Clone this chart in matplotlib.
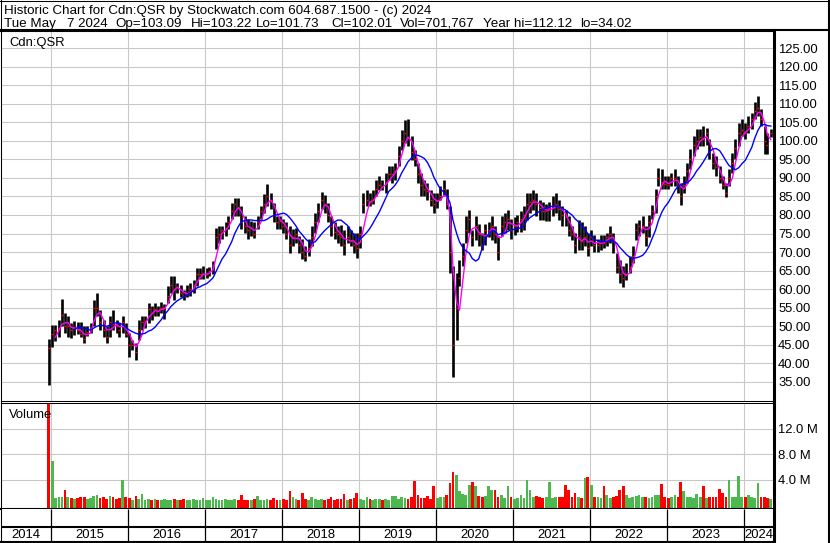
import matplotlib
matplotlib.use('Agg')
import matplotlib.pyplot as plt
from matplotlib.lines import Line2D
import pandas as pd
import numpy as np

plt.rcParams['font.family'] = ['Liberation Sans', 'DejaVu Sans']

# ---------------- data (semi-monthly periods) ----------------
periods = pd.date_range('2014-12-15', '2024-05-01', freq='SMS')

high = [46.5,
    50.4, 50.4, 51.7, 57.3, 53.5, 52.6, 50.8, 51.3, 51.0, 51.0, 50.0, 50.0, 50.8, 57.1, 58.9, 54.4, 51.7, 50.0, 52.6, 54.4, 51.7, 50.8, 52.6, 50.8,
    48.1, 46.3, 45.4, 51.7, 52.6, 52.6, 56.2, 55.3, 56.2, 55.5, 56.5, 56.0, 60.7, 63.4, 63.4, 61.6, 61.0, 59.8, 61.0, 61.6, 62.5, 65.7, 65.8, 66.2,
    65.8, 66.0, 67.5, 76.6, 77.0, 77.0, 78.0, 79.7, 83.3, 84.7, 84.5, 82.4, 79.7, 78.8, 78.3, 78.0, 79.7, 82.4, 85.6, 88.3, 86.0, 83.3, 79.7, 79.7,
    78.8, 78.0, 77.0, 76.1, 76.5, 74.3, 73.4, 71.6, 73.5, 77.0, 80.6, 83.3, 86.2, 85.5, 83.3, 79.7, 78.0, 77.0, 77.4, 76.0, 76.9, 76.0, 75.1, 75.1,
    77.0, 85.9, 86.8, 86.0, 86.8, 89.5, 90.4, 89.5, 91.3, 93.1, 93.1, 94.0, 98.5, 103.0, 105.7, 105.9, 101.2, 97.6, 94.0, 91.3, 89.5, 88.6, 86.8, 85.9,
    86.0, 87.7, 89.5, 87.0, 82.3, 66.1, 64.3, 67.9, 72.4, 79.6, 81.4, 76.0, 79.6, 77.5, 75.1, 77.5, 78.0, 79.6, 77.0, 74.2, 79.6, 80.5, 81.4, 79.0,
    79.5, 80.0, 81.0, 82.3, 86.0, 86.0, 86.8, 86.0, 84.1, 83.5, 83.0, 83.5, 85.0, 86.0, 84.1, 82.5, 81.4, 79.6, 77.0, 75.1, 78.7, 78.0, 77.0, 75.1,
    76.0, 74.5, 73.5, 74.5, 74.5, 75.1, 77.1, 75.1, 69.7, 67.9, 66.1, 67.0, 68.8, 71.5, 77.8, 78.7, 79.6, 77.0, 80.0, 82.8, 86.9, 92.7, 92.3, 90.5,
    90.5, 91.4, 92.3, 90.5, 88.7, 90.5, 94.1, 97.7, 101.3, 103.1, 103.1, 104.0, 103.5, 100.4, 96.8, 95.9, 93.2, 90.5, 88.7, 92.3, 96.8, 100.4, 104.9, 105.8,
    104.9, 106.7, 107.6, 110.6, 112.1, 108.5, 104.0, 102.2, 103.2]

low = [34.0,
    44.5, 45.9, 47.2, 49.9, 48.1, 47.2, 46.8, 47.7, 48.0, 47.2, 45.4, 47.3, 48.1, 49.9, 52.6, 49.0, 47.2, 45.4, 47.2, 49.0, 48.1, 47.2, 48.1, 47.2,
    41.8, 43.6, 40.9, 46.3, 49.0, 49.5, 50.8, 51.7, 52.6, 52.6, 53.5, 52.0, 56.2, 58.9, 57.1, 58.9, 57.8, 57.1, 57.8, 58.0, 58.9, 60.7, 62.6, 62.6,
    63.0, 63.5, 64.0, 70.7, 72.5, 73.4, 74.3, 76.1, 78.8, 79.7, 79.7, 76.1, 75.2, 73.4, 74.3, 73.8, 76.1, 78.8, 80.6, 82.4, 81.5, 78.0, 76.1, 76.1,
    75.2, 73.4, 69.8, 71.6, 72.5, 69.8, 68.0, 67.6, 69.0, 71.6, 75.2, 78.0, 81.5, 80.6, 78.0, 74.3, 73.4, 72.5, 71.5, 69.3, 72.4, 71.5, 69.7, 68.4,
    71.0, 80.5, 82.3, 82.5, 83.0, 85.0, 86.8, 86.8, 85.9, 89.5, 88.6, 89.5, 93.1, 97.6, 99.4, 98.5, 94.9, 93.1, 88.6, 85.0, 85.0, 84.1, 82.3, 80.5,
    82.0, 84.1, 85.0, 81.5, 64.3, 36.4, 46.3, 60.7, 66.1, 72.4, 75.1, 71.5, 73.3, 71.5, 70.6, 72.0, 74.0, 73.3, 72.5, 67.9, 74.2, 75.1, 76.0, 73.5,
    74.5, 75.5, 75.5, 76.0, 78.7, 80.5, 81.4, 79.6, 78.7, 78.7, 78.5, 78.5, 79.6, 80.5, 78.7, 77.0, 77.0, 74.2, 73.3, 69.7, 70.6, 70.6, 71.5, 68.8,
    71.5, 70.0, 70.0, 70.5, 71.0, 71.5, 72.4, 69.7, 64.3, 61.6, 60.5, 62.5, 64.3, 67.0, 73.3, 74.2, 75.1, 71.5, 74.0, 78.8, 80.6, 87.8, 86.9, 86.9,
    86.9, 87.8, 87.8, 86.0, 82.8, 86.0, 88.7, 92.3, 95.9, 97.7, 98.6, 98.6, 99.0, 95.0, 92.3, 90.5, 88.7, 86.9, 84.9, 87.8, 91.4, 95.0, 98.6, 101.3,
    100.4, 102.2, 103.1, 105.8, 106.7, 104.0, 96.4, 96.4, 101.0]

close = [44.0,
    48, 49, 49.5, 53, 50, 50, 49, 49.5, 49, 48, 46.5, 48.5, 49.5, 55, 55, 51, 49, 47, 51, 50.5, 50, 49, 51, 48,
    45, 45, 43, 49, 51, 51.5, 54.5, 53.5, 54.5, 54, 55, 55, 58, 61, 60, 60.5, 59, 58, 59, 60, 61, 64, 64, 64,
    64, 65, 66.5, 74, 75, 76, 76.5, 78, 81, 83, 82, 78, 77, 76, 76.5, 75, 78, 81, 83, 85, 84, 80, 78, 78.5,
    77, 75, 72, 74, 75, 72, 70, 69, 71, 74, 78, 81, 84, 83, 80, 77, 75.5, 75, 74, 72, 74, 73, 72, 71,
    75, 83, 84, 83.5, 84, 87, 88, 87.5, 89, 91, 91, 92, 96, 100, 102, 101, 97, 95, 91, 88, 87, 86.5, 84, 83,
    84, 85, 87, 83, 70, 45, 55, 63, 69, 76, 79, 74, 77, 75, 72, 76, 76, 77, 75, 70, 77, 78, 79, 76,
    77, 78, 79, 80, 83, 83.5, 84, 83, 82, 81, 81, 82, 82, 83, 81.5, 80, 79.5, 76, 75, 72, 74, 73, 74, 71,
    74, 72, 72, 73, 72.5, 74, 75, 73, 66, 64, 63, 64, 66, 69, 76, 77, 77, 74, 78, 81, 85, 90, 89, 88.5,
    88, 90, 90, 88, 85, 88, 92, 95, 99, 100, 101, 100.5, 102, 97, 94, 93, 90, 88, 86, 90, 94, 98, 102, 103,
    102, 104, 106, 108, 109, 106, 100, 99, 102.01]

volume_m = [18.0,
    6.9, 1.2, 1.3, 1.4, 2.4, 1.3, 1.2, 1.1, 1.2, 1.3, 1.4, 1.0, 1.2, 1.5, 1.7, 1.2, 1.3, 1.1, 1.5, 1.3, 1.0, 1.2, 4.0, 1.3,
    1.2, 0.9, 1.5, 1.0, 1.8, 0.9, 1.1, 0.8, 1.0, 0.9, 0.8, 1.1, 0.9, 0.8, 1.0, 0.9, 0.8, 1.0, 0.9, 0.8, 1.0, 0.9, 0.8, 1.2,
    0.9, 0.8, 1.3, 1.1, 0.9, 0.8, 1.0, 0.9, 0.8, 1.0, 0.9, 1.6, 0.8, 0.9, 0.8, 1.0, 1.5, 0.9, 0.8, 1.0, 0.9, 1.2, 0.8, 0.9,
    1.0, 0.9, 2.3, 1.3, 1.0, 0.9, 1.9, 1.0, 0.9, 1.3, 1.0, 0.9, 1.1, 0.9, 1.0, 1.3, 0.9, 1.0, 1.1, 1.8, 0.9, 1.0, 1.2, 1.9,
    1.1, 0.9, 1.3, 1.0, 0.9, 1.0, 1.1, 0.9, 1.0, 0.8, 1.5, 1.5, 1.0, 1.4, 1.2, 1.0, 1.4, 3.9, 1.7, 1.2, 1.2, 1.5, 1.0, 3.0,
    1.2, 1.4, 1.3, 1.6, 3.5, 5.3, 4.8, 2.2, 1.8, 1.6, 3.2, 3.7, 3.0, 1.5, 1.3, 1.5, 3.0, 2.4, 2.4, 1.4, 1.6, 1.2, 3.0, 1.4,
    1.1, 1.2, 1.6, 1.2, 4.0, 2.4, 1.3, 1.5, 1.4, 1.2, 1.3, 3.7, 1.2, 1.3, 1.4, 1.3, 3.2, 2.4, 1.3, 1.9, 1.4, 1.2, 4.3, 4.5,
    3.2, 1.4, 1.3, 1.2, 3.0, 1.6, 1.2, 1.3, 1.5, 2.4, 3.1, 1.7, 1.2, 1.3, 1.5, 1.6, 1.4, 1.3, 1.2, 1.3, 1.7, 1.7, 3.3, 1.3,
    1.2, 1.3, 1.7, 1.3, 3.6, 2.2, 1.4, 1.3, 1.2, 1.8, 1.3, 3.1, 1.2, 1.3, 1.4, 1.3, 2.6, 1.9, 1.4, 4.0, 1.3, 1.4, 4.6, 1.3,
    1.4, 1.6, 1.3, 1.2, 3.5, 1.3, 1.4, 1.2, 1.0]

years = list(range(2014, 2025))
price_ticks = list(range(35, 130, 5))
vol_ticks = [4, 8, 12]

title_line = 'Historic Chart for Cdn:QSR by Stockwatch.com 604.687.1500 - (c) 2024'
info_fields = ['Tue May', '7 2024', 'Op=103.09', 'Hi=103.22', 'Lo=101.73',
               'Cl=102.01', 'Vol=701,767', 'Year hi=112.12', 'lo=34.02']
info_x_px = [4, 67, 115, 190.5, 256, 331.5, 400, 483, 580]

# ---------------- figure ----------------
W, H, DPI = 830, 543, 100
FS = 9.4
FS_HEAD = 9.65
fig = plt.figure(figsize=(W / DPI, H / DPI), dpi=DPI)
fig.patch.set_facecolor('white')


def rect(x0, y0, x1, y1):
    return [x0 / W, 1 - y1 / H, (x1 - x0) / W, (y1 - y0) / H]


ax_p = fig.add_axes(rect(1, 30.5, 774, 401))
ax_v = fig.add_axes(rect(1, 403, 774, 509))
ax_y = fig.add_axes(rect(1, 509, 774, 542))

xc = periods + pd.Timedelta(days=7)
xmin, xmax = pd.Timestamp('2014-05-09'), pd.Timestamp('2024-05-23')
bounds = [pd.Timestamp(f'{y}-01-01') for y in years[1:]]

GRID = '#c8c8c8'
for ax in (ax_p, ax_v, ax_y):
    ax.set_xlim(xmin, xmax)
    ax.set_facecolor('white')
for ax in (ax_p, ax_v):
    ax.set_xticks(bounds)
    ax.tick_params(axis='x', length=0, labelbottom=False)
    ax.grid(True, color=GRID, lw=0.75)
    ax.set_axisbelow(True)
    ax.yaxis.tick_right()
    ax.tick_params(axis='y', length=0, pad=3, labelsize=FS, colors='black')
    for s in ax.spines.values():
        s.set_color('black')
        s.set_linewidth(0.75)
    ax.spines['right'].set_linewidth(2.2)

ax_p.spines['top'].set_linewidth(1.5)
ax_v.spines['bottom'].set_linewidth(1.5)

# price panel
ax_p.set_ylim(29.79, 129.8)
ax_p.set_yticks(price_ticks)
ax_p.set_yticklabels([f'{v:.2f}' for v in price_ticks])
ax_p.vlines(xc, low, high, color='black', lw=1.9, zorder=2)
ax_p.plot(xc, close, ls='none', marker='_', ms=2.0, mew=1.0, color='red', zorder=3)
s_close = pd.Series(close, index=xc)
ax_p.plot(xc, s_close.rolling(3).mean(), color='#ff00ff', lw=1.0, zorder=4)
ax_p.plot(xc, s_close.rolling(9).mean(), color='#0000ff', lw=1.0, zorder=4)

# volume panel
VMIN, VMAX = -0.53, 15.98
ax_v.set_ylim(VMIN, VMAX)
ax_v.set_yticks(vol_ticks)
ax_v.set_yticklabels([f'{v:.1f} M' for v in vol_ticks])
chg = np.diff(np.array(close), prepend=close[0] + 1)
vcolors = ['#4db84d' if c >= 0 else '#ff0000' for c in chg]
ax_v.bar(xc, np.array(volume_m) - VMIN, bottom=VMIN, width=13, color=vcolors,
         linewidth=0, zorder=2)

# year strip
ax_y.set_ylim(0, 33)
ax_y.set_xticks([])
ax_y.set_yticks([])
for name, s in ax_y.spines.items():
    s.set_color('black')
    s.set_linewidth(0.75)
ax_y.spines['top'].set_visible(False)
ax_y.spines['bottom'].set_linewidth(1.5)
ax_y.spines['right'].set_linewidth(2.2)
ax_y.axhline(15.5, color='black', lw=1.5)
ax_y.vlines(bounds, 0, 33, color='black', lw=0.9)
edges = [xmin] + bounds + [xmax]
for i, yr in enumerate(years):
    mid = edges[i] + (edges[i + 1] - edges[i]) / 2
    ax_y.text(mid, 7.5, str(yr), ha='center', va='center', fontsize=FS, color='black')

# texts
fig.text(4 / W, 1 - 14 / H, title_line, fontsize=FS_HEAD, va='baseline')
for t, px in zip(info_fields, info_x_px):
    fig.text(px / W, 1 - 27 / H, t, fontsize=FS_HEAD, va='baseline')
fig.text(9 / W, 1 - 46 / H, 'Cdn:QSR', fontsize=FS, va='baseline')
fig.text(9 / W, 1 - 418.5 / H, 'Volume', fontsize=FS, va='baseline')

# frame lines
tf = fig.transFigure
fig.add_artist(Line2D([0.5 / W, 0.5 / W], [0, 1], transform=tf, color='black', lw=0.75))
fig.add_artist(Line2D([0, 1], [1 - 0.5 / H, 1 - 0.5 / H], transform=tf, color='black', lw=0.75))
fig.add_artist(Line2D([1 - 1 / W, 1 - 1 / W], [0, 1], transform=tf, color='black', lw=1.5))
fig.add_artist(Line2D([0, 1], [1 - 30 / H, 1 - 30 / H], transform=tf, color='black', lw=1.5))

fig.savefig('out.png', dpi=DPI, facecolor='white')
